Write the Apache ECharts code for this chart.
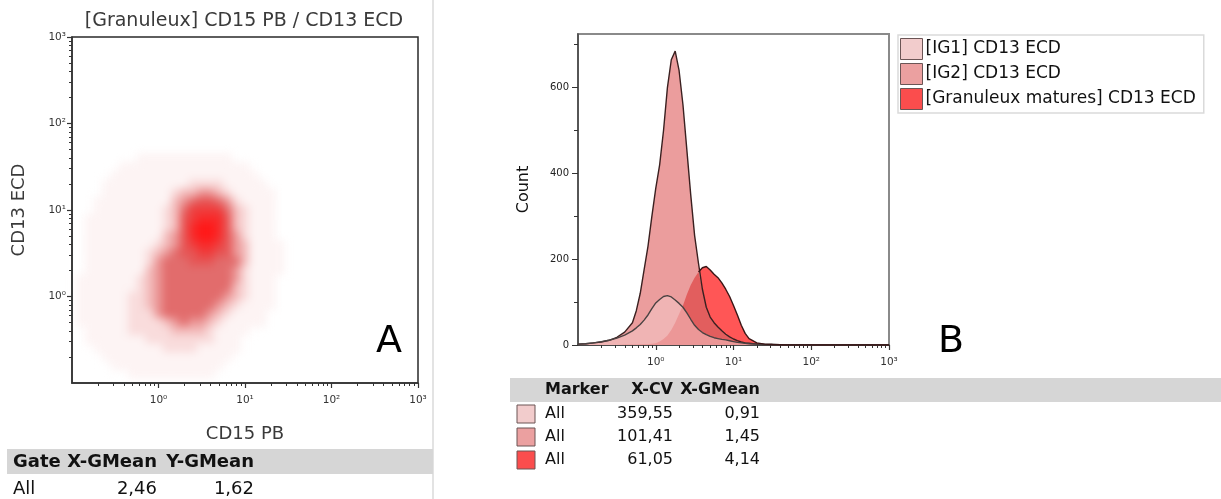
<!DOCTYPE html>
<html><head><meta charset="utf-8">
<script src="https://cdn.jsdelivr.net/npm/echarts@6/dist/echarts.min.js"></script>
<style>
html,body{margin:0;padding:0;background:#fff;}
#wrap{position:relative;width:1221px;height:499px;overflow:hidden;background:#fff;}
#dens{position:absolute;left:0;top:0;width:1221px;height:499px;filter:blur(4.5px);}
#main{position:absolute;left:0;top:0;width:1221px;height:499px;}
</style></head><body>
<div id="wrap"><div id="dens"></div><div id="main"></div></div>
<script>
// ---------- DATA ----------
// Panel A: density of the CD15 PB / CD13 ECD dot plot, read per 0.1-decade cell (0 = empty ... 9 = densest)
const densLogX = [-0.9,-0.8,-0.7,-0.6,-0.5,-0.4,-0.3,-0.2,-0.1,0.0,0.1,0.2,0.3,0.4,0.5,0.6,0.7,0.8,0.9,1.0,1.1,1.2,1.3,1.4,1.5];
const densLogY = [1.6,1.5,1.4,1.3,1.2,1.1,1.0,0.9,0.8,0.7,0.6,0.5,0.4,0.3,0.2,0.1,0.0,-0.1,-0.2,-0.3,-0.4,-0.5,-0.6,-0.7,-0.8,-0.9];
const densRows = [
  "0000000111111111110000000",
  "0000011111111111111100000",
  "0000111111111111111110000",
  "0001111111111222211111000",
  "0001111111123344321111100",
  "0011111111134566542111100",
  "0011111111235777753211100",
  "0111111111236788863211100",
  "0111111111236899863211100",
  "0111111111346899864211100",
  "0111111112346788764311110",
  "0111111123456677664311110",
  "0111111124555666555311110",
  "0111111134555555554211110",
  "1111111234555555554211100",
  "1111111234555555553211100",
  "1111112234555555543211100",
  "1111112234555555432111100",
  "1111112224555554321111000",
  "1111112222345443211111000",
  "0111112222233332111100000",
  "0111111122222222111000000",
  "0011111111222211111000000",
  "0001111111111111110000000",
  "0000111111111111100000000",
  "0000001111111111000000000"
];
// Panel B: CD13 ECD histograms (x in decades, log10)
const histLogX = [-1.0,-0.9,-0.8,-0.7,-0.6,-0.5,-0.4,-0.3,-0.25,-0.2,-0.15,-0.1,-0.05,0.0,0.05,0.1,0.15,0.2,0.25,0.3,0.35,0.4,0.45,0.5,0.55,0.6,0.65,0.7,0.75,0.8,0.85,0.9,0.95,1.0,1.05,1.1,1.15,1.2,1.3,1.4,1.5,1.7,2.0,2.5,3.0];
const countIG1 = [2,3,5,8,11,16,23,33,40,48,58,70,85,98,106,113,115,112,105,97,88,75,60,46,36,29,24,20,17,15,13,12,10,8,6,5,4,3,2,1,1,0,0,0,0];
const countIG2 = [2,3,5,7,11,18,30,52,80,120,175,230,300,365,420,500,600,665,685,640,560,455,350,255,190,130,88,65,52,42,33,25,19,14,10,7,5,4,2,1,1,0,0,0,0];
const countMature = [0,0,0,0,0,0,1,1,1,2,2,2,3,4,8,14,22,35,52,72,92,118,140,157,170,180,183,175,165,157,145,130,113,92,70,46,27,15,5,2,1,0,0,0,0];
const seriesNames = ['[IG1] CD13 ECD','[IG2] CD13 ECD','[Granuleux matures] CD13 ECD'];
// axis ticks
const decadeValues = [0,1,2,3];
const decadeLabels = ['10\u2070','10\u00b9','10\u00b2','10\u00b3'];
const countTicks = [0,200,400,600];
const countMinorTicks = [100,300,500,700];
// stats tables
const leftStatsHeader = ['Gate','X-GMean','Y-GMean'];
const leftStatsRow = ['All','2,46','1,62'];
const rightStatsHeader = ['Marker','X-CV','X-GMean'];
const rightStatsRows = [['All','359,55','0,91'],['All','101,41','1,45'],['All','61,05','4,14']];
// texts
const titleA = '[Granuleux] CD15 PB / CD13 ECD';

// ---------- STYLE ----------
const FONT = "'DejaVu Sans', Verdana, sans-serif";
const densPalette = [null,'#fdf4f4','#f9dcdc','#f3bcbc','#eb9797','#e26c6c','#e65656','#ef3d3d','#f82a2a','#ff1818'];
const swatch = ['#f2cccc','#eba0a0','#fb4d4d'];

// ---------- DENSITY LAYER ----------
const densData = [];
densRows.forEach((row, r) => {
  for (let c = 0; c < densLogX.length; c++) {
    const v = +row.charAt(c);
    if (v > 0) densData.push([densLogX[c], densLogY[r], v]);
  }
});
const dens = echarts.init(document.getElementById('dens'), null, {renderer:'canvas'});
dens.setOption({
  animation:false,
  backgroundColor:'transparent',
  grid:{left:72, top:37, width:346, height:346, outerBoundsMode:'none'},
  xAxis:{type:'value', min:-1, max:3, show:false},
  yAxis:{type:'value', min:-1, max:3, show:false},
  series:[{type:'scatter', data:densData, symbol:'rect', symbolSize:9.4, silent:true,
    itemStyle:{color:p => densPalette[p.value[2]], opacity:1}}]
});

// ---------- MAIN ----------
const minorDecadeTicks = [];
for (let d = -1; d < 3; d++) for (let k = 2; k <= 9; k++) minorDecadeTicks.push(d + Math.log10(k));

const pairs = ys => histLogX.map((x,i) => [x, ys[i]]);
const overlap = histLogX.map((x,i) => [x, Math.min(countIG2[i], countMature[i])]);
const matureEdge = histLogX.map((x,i) => {
  const ex = countMature[i] >= countIG2[i] || (i+1 < histLogX.length && countMature[i+1] >= countIG2[i+1]);
  return [x, ex ? countMature[i] : '-'];
});

const tickLbl = v => { const i = decadeValues.indexOf(Math.round(v)); return i >= 0 ? decadeLabels[i] : ''; };

function decadeAxis(grid, pos, name, nameGap, labelMargin) {
  return [{
    type:'value', gridIndex:grid, min:-1, max:3, position:pos,
    name:name, nameLocation:'middle', nameGap:nameGap,
    nameTextStyle:{fontFamily:FONT, fontSize:18, color:'#3a3a3a'},
    axisLine:{show:true, onZero:false, lineStyle:{color:'#333', width:1.5}},
    axisTick:{show:true, customValues:decadeValues, length:5, lineStyle:{color:'#333', width:1.2}},
    axisLabel:{show:true, customValues:decadeValues, formatter:tickLbl, fontFamily:FONT, fontSize:10.5, color:'#333', margin:labelMargin},
    splitLine:{show:false}
  },{
    type:'value', gridIndex:grid, min:-1, max:3, position:pos,
    axisLine:{show:false, onZero:false},
    axisTick:{show:true, customValues:minorDecadeTicks, length:3, lineStyle:{color:'#333', width:1}},
    axisLabel:{show:false}, splitLine:{show:false}
  }];
}

const xA = decadeAxis(0, 'bottom', 'CD15 PB', 42, 12);
const yA = decadeAxis(0, 'left', 'CD13 ECD', 44, 6);
const xB = decadeAxis(1, 'bottom', '', 0, 12);

const yB = [{
  type:'value', gridIndex:1, min:0, max:725, position:'left',
  name:'Count', nameLocation:'middle', nameGap:46,
  nameTextStyle:{fontFamily:FONT, fontSize:16, color:'#111'},
  axisLine:{show:true, onZero:false, lineStyle:{color:'#444', width:1.5}},
  axisTick:{show:true, customValues:countTicks, length:6, lineStyle:{color:'#333'}},
  axisLabel:{show:true, customValues:countTicks, fontFamily:FONT, fontSize:10, color:'#222', margin:9},
  splitLine:{show:false}
},{
  type:'value', gridIndex:1, min:0, max:725, position:'left',
  axisLine:{show:false, onZero:false},
  axisTick:{show:true, customValues:countMinorTicks, length:4, lineStyle:{color:'#333'}},
  axisLabel:{show:false}, splitLine:{show:false}
}];

const hx = 2, hy = 2;
const areaSeries = (name, data, color, z, opacity) => ({
  type:'line', name:name, data:data, xAxisIndex:hx, yAxisIndex:hy, z:z,
  showSymbol:false, symbol:'none', silent:true, animation:false,
  itemStyle:{color:color}, lineStyle:{width:0, opacity:0},
  areaStyle:{color:color, opacity:opacity}
});
const lineSeries = (data, color, z) => ({
  type:'line', data:data, xAxisIndex:hx, yAxisIndex:hy, z:z,
  showSymbol:false, symbol:'none', silent:true, animation:false, connectNulls:false,
  lineStyle:{color:color, width:1.4}
});

const main = echarts.init(document.getElementById('main'), null, {renderer:'canvas'});

const T = (x, y, s, o) => ({type:'text', x:x, y:y, silent:true, z:50,
  style:Object.assign({text:s, fill:'#111', font:'16px ' + FONT, align:'left', verticalAlign:'middle'}, o || {})});

const graphics = [
  {type:'line', shape:{x1:433, y1:0, x2:433, y2:499}, style:{stroke:'#e3e3e3', lineWidth:2}, silent:true},
  T(244, 21, titleA, {font:'19px ' + FONT, fill:'#3a3a3a', align:'center'}),
  T(389, 342, 'A', {font:'38px ' + FONT, fill:'#000', align:'center'}),
  T(951, 342, 'B', {font:'38px ' + FONT, fill:'#000', align:'center'}),
  // left table
  {type:'rect', shape:{x:7, y:449, width:426, height:25}, style:{fill:'#d6d6d6'}, silent:true},
  T(13, 462, leftStatsHeader[0], {font:'bold 18px ' + FONT}),
  T(157, 462, leftStatsHeader[1], {font:'bold 18px ' + FONT, align:'right'}),
  T(254, 462, leftStatsHeader[2], {font:'bold 18px ' + FONT, align:'right'}),
  T(13, 489, leftStatsRow[0], {font:'18px ' + FONT}),
  T(157, 489, leftStatsRow[1], {font:'18px ' + FONT, align:'right'}),
  T(254, 489, leftStatsRow[2], {font:'18px ' + FONT, align:'right'}),
  // right table
  {type:'rect', shape:{x:510, y:378, width:711, height:24}, style:{fill:'#d6d6d6'}, silent:true},
  T(545, 390, rightStatsHeader[0], {font:'bold 16px ' + FONT}),
  T(673, 390, rightStatsHeader[1], {font:'bold 16px ' + FONT, align:'right'}),
  T(760, 390, rightStatsHeader[2], {font:'bold 16px ' + FONT, align:'right'})
];
const rowY = [414, 437, 460];
rightStatsRows.forEach((r, i) => {
  graphics.push({type:'rect', shape:{x:517, y:rowY[i]-9, width:18, height:18},
    style:{fill:swatch[i], stroke:'#6b5555', lineWidth:1}, silent:true});
  graphics.push(T(545, rowY[i], r[0], {font:'16px ' + FONT}));
  graphics.push(T(673, rowY[i], r[1], {font:'16px ' + FONT, align:'right'}));
  graphics.push(T(760, rowY[i], r[2], {font:'16px ' + FONT, align:'right'}));
});

main.setOption({
  animation:false,
  backgroundColor:'transparent',
  textStyle:{fontFamily:FONT},
  grid:[
    {left:72, top:37, width:346, height:346, show:true, borderColor:'#2a2a2a', borderWidth:1.5, backgroundColor:'transparent', outerBoundsMode:'none'},
    {left:578, top:34, width:311, height:311, show:true, borderColor:'#8a8a8a', borderWidth:2, backgroundColor:'transparent', outerBoundsMode:'none'}
  ],
  xAxis:[xA[0], xA[1], xB[0], xB[1]],
  yAxis:[yA[0], yA[1], yB[0], yB[1]],
  legend:{
    orient:'vertical', left:898, top:35, padding:[3,8,3,2], itemGap:3,
    itemWidth:22, itemHeight:21, selectedMode:false,
    borderColor:'#dadada', borderWidth:1.5, backgroundColor:'#fff',
    textStyle:{fontFamily:FONT, fontSize:17, color:'#111', padding:[0,0,0,-2]},
    data:seriesNames.map((n,i) => ({name:n, icon:'rect',
      itemStyle:{color:swatch[i], borderColor:'#6b5555', borderWidth:1}}))
  },
  graphic:graphics,
  series:[
    areaSeries(seriesNames[2], pairs(countMature), '#ff5656', 2, 1),
    areaSeries(seriesNames[1], pairs(countIG2), '#eb9d9d', 3, 1),
    areaSeries(null, overlap, '#e25e5e', 4, 1),
    areaSeries(seriesNames[0], pairs(countIG1), '#f4c6c6', 5, 0.55),
    lineSeries(pairs(countIG2), '#3a2020', 6),
    lineSeries(pairs(countIG1), '#4a4242', 6),
    lineSeries(matureEdge, '#3a1616', 6)
  ]
});
</script>
</body></html>
